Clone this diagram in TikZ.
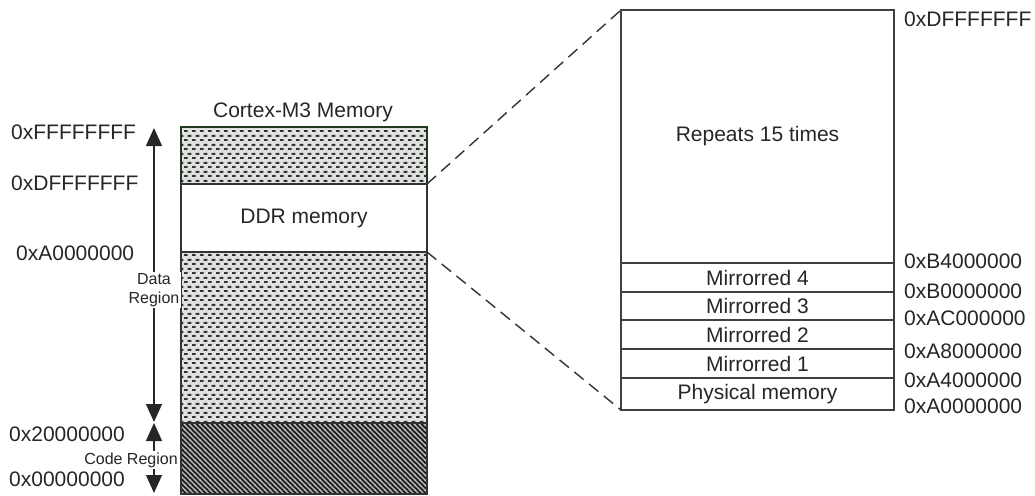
\documentclass[tikz,border=0pt]{standalone}
\usepackage{fontspec}
\setmainfont{Liberation Sans}
\usetikzlibrary{arrows.meta,patterns}

% staggered short dashes used for the data areas
\pgfdeclarepatternformonly{brickdots}{\pgfpointorigin}{\pgfqpoint{8pt}{8.6pt}}{\pgfqpoint{8pt}{8.6pt}}{%
  \pgfpathrectangle{\pgfqpoint{0pt}{0pt}}{\pgfqpoint{4.2pt}{2pt}}%
  \pgfpathrectangle{\pgfqpoint{4pt}{4.3pt}}{\pgfqpoint{4.2pt}{2pt}}%
  \pgfusepath{fill}}

% dense diagonal stripes used for the code area
\pgfdeclarepatternformonly{diagstripes}{\pgfqpoint{-1pt}{-1pt}}{\pgfqpoint{6pt}{6pt}}{\pgfqpoint{5pt}{5pt}}{%
  \pgfsetlinewidth{1.3pt}%
  \pgfpathmoveto{\pgfqpoint{-1pt}{6pt}}%
  \pgfpathlineto{\pgfqpoint{6pt}{-1pt}}%
  \pgfusepathqstroke}

\definecolor{edgegreen}{RGB}{32,58,32}

\begin{document}
\begin{tikzpicture}[x=1pt,y=-1pt,
  region/.style={draw=black!80, line width=1.3pt, minimum width=246pt,
    inner sep=0pt, outer sep=0pt, font=\fontsize{21}{25}\selectfont, text=black!85},
  dotted area/.style={region, preaction={fill=black!12}, pattern=brickdots, pattern color=black!80},
  cell/.style={draw=black!75, line width=1.2pt, minimum width=273pt,
    inner sep=0pt, outer sep=0pt, font=\fontsize{21}{25}\selectfont, text=black!85},
  addr/.style={anchor=base west, inner sep=0pt, font=\fontsize{21}{25}\selectfont, text=black!85},
  small/.style={font=\fontsize{16}{18.5}\selectfont, fill=white, inner sep=1.5pt,
    align=center, text=black!85},
  span/.style={{Triangle[width=16pt,length=18pt]}-{Triangle[width=16pt,length=18pt]},
    line width=1.3pt, draw=black!85},
  zoomline/.style={draw=black!80, line width=1.4pt, dash pattern=on 12pt off 7pt}]

\useasboundingbox (0,0) rectangle (1035,495);

% ---- Cortex-M3 memory map ----
\node[anchor=base, inner sep=0pt, font=\fontsize{21}{25}\selectfont, text=black!85]
  (title) at (303,117) {Cortex-M3 Memory};

\node[dotted area, draw=edgegreen, minimum height=57pt] (upper) at (304,155.5) {};
\node[dotted area, minimum height=171pt] (data) at (304,337.5) {};
\node[region, preaction={fill=black!88}, pattern=diagstripes, pattern color=black!25,
  minimum height=71pt] (code) at (304,458.5) {};
\node[region, fill=white, minimum height=68pt] (ddr) at (304,218) {DDR memory};

% addresses on the left
\node[addr] (aF) at (11,139) {0xFFFFFFFF};
\node[addr] (aD) at (11,190) {0xDFFFFFFF};
\node[addr] (aA) at (16,260) {0xA0000000};
\node[addr] (a2) at (9,441) {0x20000000};
\node[addr] (a0) at (9,486) {0x00000000};

% region extents
\coordinate (dtop) at (154,128);
\coordinate (dbot) at (154,422);
\coordinate (ctop) at (154,423);
\coordinate (cbot) at (154,493);
\draw[span] (dtop) -- (dbot);
\draw[span] (ctop) -- (cbot);
\node[small] (dlabel) at (154,290) {Data\\Region};
\node[small] (clabel) at (131,460) {Code Region};

% ---- expanded DDR window ----
\node[cell, minimum height=253pt] (rep)  at (757.5,136.5) {Repeats 15 times};
\node[cell, minimum height=29pt]  (m4)   at (757.5,277.5) {Mirrorred 4};
\node[cell, minimum height=28pt]  (m3)   at (757.5,306)   {Mirrorred 3};
\node[cell, minimum height=29pt]  (m2)   at (757.5,334.5) {Mirrorred 2};
\node[cell, minimum height=29pt]  (m1)   at (757.5,363.5) {Mirrorred 1};
\node[cell, minimum height=32pt]  (phys) at (757.5,394)   {Physical memory};

% addresses on the right
\node[addr] (rD)  at (904,27)  {0xDFFFFFFF};
\node[addr] (rB4) at (904,268) {0xB4000000};
\node[addr] (rB0) at (904,298) {0xB0000000};
\node[addr] (rAC) at (904,325) {0xAC000000};
\node[addr] (rA8) at (904,358) {0xA8000000};
\node[addr] (rA4) at (904,387) {0xA4000000};
\node[addr] (rA0) at (904,413) {0xA0000000};

% zoom lines
\draw[zoomline] (ddr.north east) -- (rep.north west);
\draw[zoomline] (ddr.south east) -- (phys.south west);
\end{tikzpicture}
\end{document}
